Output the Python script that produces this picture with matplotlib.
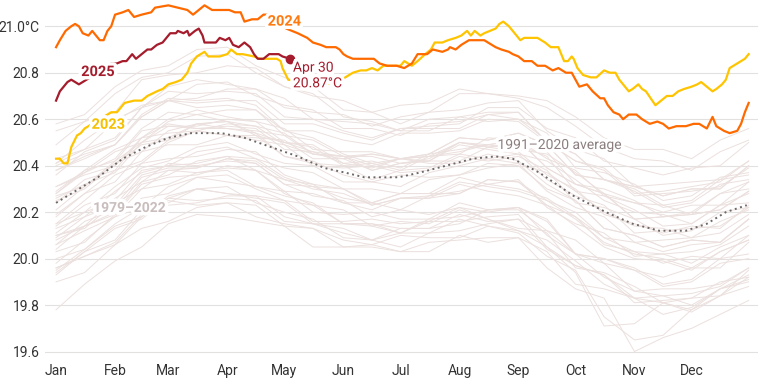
import matplotlib
matplotlib.use('Agg')
import matplotlib.pyplot as plt
import matplotlib.patheffects as pe

plt.rcParams['font.family'] = ['Roboto', 'DejaVu Sans']

# day-of-year positions for the 1979-2022 lines
bg_days = [1, 16, 32, 46, 60, 75, 91, 106, 121, 136, 152, 167, 182, 197, 213, 228, 244, 259, 274, 289, 305, 320, 335, 350, 365]
bg_years = list(range(1979, 2023))
bg_values = [
    [19.94, 20.03, 20.08, 20.21, 20.23, 20.24, 20.27, 20.27, 20.18, 20.15, 20.13, 20.08, 20.11, 20.11, 20.17, 20.14, 20.12, 20.08, 19.99, 19.89, 19.83, 19.81, 19.77, 19.84, 19.88],
    [20.03, 20.07, 20.19, 20.26, 20.28, 20.35, 20.36, 20.30, 20.25, 20.23, 20.15, 20.14, 20.11, 20.17, 20.18, 20.21, 20.22, 20.10, 20.02, 19.98, 19.86, 19.87, 19.87, 19.89, 19.96],
    [19.95, 20.04, 20.14, 20.18, 20.27, 20.30, 20.28, 20.26, 20.24, 20.15, 20.15, 20.15, 20.13, 20.13, 20.19, 20.16, 20.17, 20.11, 19.96, 19.94, 19.88, 19.81, 19.83, 19.90, 19.92],
    [19.96, 20.01, 20.06, 20.18, 20.25, 20.23, 20.24, 20.23, 20.14, 20.13, 20.08, 20.06, 20.10, 20.09, 20.09, 20.14, 20.11, 20.01, 19.95, 19.75, 19.65, 19.67, 19.78, 19.84, 19.95],
    [20.04, 20.14, 20.19, 20.32, 20.35, 20.36, 20.40, 20.38, 20.28, 20.23, 20.21, 20.14, 20.16, 20.15, 20.21, 20.17, 20.13, 20.12, 20.02, 19.92, 19.86, 19.84, 19.80, 19.87, 19.91],
    [19.90, 19.94, 20.06, 20.13, 20.16, 20.22, 20.24, 20.18, 20.15, 20.13, 20.05, 20.06, 20.03, 20.07, 20.08, 20.09, 20.09, 19.96, 19.87, 19.83, 19.60, 19.66, 19.70, 19.76, 19.82],
    [19.78, 19.89, 19.99, 20.05, 20.15, 20.19, 20.18, 20.16, 20.14, 20.05, 20.05, 20.05, 20.03, 20.03, 20.10, 20.07, 20.09, 20.03, 19.89, 19.87, 19.83, 19.76, 19.79, 19.87, 19.90],
    [19.96, 20.01, 20.07, 20.19, 20.26, 20.25, 20.26, 20.25, 20.16, 20.15, 20.11, 20.08, 20.13, 20.13, 20.15, 20.21, 20.21, 20.12, 20.08, 19.98, 19.95, 19.92, 19.96, 19.96, 20.07],
    [20.06, 20.16, 20.21, 20.35, 20.38, 20.39, 20.43, 20.42, 20.34, 20.30, 20.28, 20.23, 20.26, 20.27, 20.33, 20.31, 20.29, 20.25, 20.17, 20.07, 20.02, 20.00, 19.96, 20.03, 20.08],
    [20.10, 20.13, 20.24, 20.30, 20.32, 20.37, 20.38, 20.31, 20.27, 20.24, 20.15, 20.15, 20.11, 20.16, 20.16, 20.18, 20.19, 20.05, 19.97, 19.93, 19.81, 19.82, 19.83, 19.84, 19.92],
    [19.93, 20.03, 20.13, 20.17, 20.26, 20.30, 20.28, 20.27, 20.25, 20.16, 20.16, 20.17, 20.15, 20.16, 20.22, 20.20, 20.22, 20.16, 20.02, 20.00, 19.96, 19.89, 19.91, 20.00, 20.02],
    [20.08, 20.14, 20.20, 20.33, 20.41, 20.40, 20.42, 20.41, 20.32, 20.31, 20.26, 20.24, 20.28, 20.28, 20.28, 20.34, 20.33, 20.23, 20.18, 20.06, 20.03, 19.98, 20.01, 20.00, 20.10],
    [20.09, 20.18, 20.23, 20.36, 20.39, 20.39, 20.43, 20.41, 20.32, 20.27, 20.25, 20.18, 20.21, 20.19, 20.22, 20.17, 20.12, 20.05, 19.94, 19.71, 19.72, 19.81, 19.78, 19.87, 19.93],
    [20.00, 20.04, 20.15, 20.22, 20.24, 20.30, 20.31, 20.24, 20.20, 20.17, 20.09, 20.08, 20.05, 20.11, 20.12, 20.15, 20.17, 20.04, 19.97, 19.93, 19.83, 19.84, 19.85, 19.88, 19.96],
    [19.98, 20.08, 20.18, 20.22, 20.31, 20.35, 20.33, 20.31, 20.29, 20.20, 20.19, 20.20, 20.17, 20.17, 20.24, 20.21, 20.22, 20.17, 20.02, 20.00, 19.95, 19.88, 19.90, 19.98, 20.00],
    [20.06, 20.12, 20.18, 20.30, 20.38, 20.37, 20.39, 20.38, 20.29, 20.28, 20.24, 20.21, 20.26, 20.26, 20.28, 20.34, 20.33, 20.25, 20.20, 20.09, 20.07, 20.03, 20.06, 20.07, 20.17],
    [20.14, 20.23, 20.28, 20.41, 20.43, 20.44, 20.47, 20.46, 20.36, 20.32, 20.30, 20.23, 20.26, 20.26, 20.32, 20.29, 20.27, 20.23, 20.14, 20.05, 20.00, 19.99, 19.95, 20.03, 20.08],
    [20.10, 20.14, 20.26, 20.33, 20.36, 20.42, 20.44, 20.38, 20.34, 20.32, 20.24, 20.24, 20.21, 20.27, 20.29, 20.32, 20.34, 20.22, 20.15, 20.11, 20.01, 20.02, 20.03, 20.06, 20.14],
    [20.15, 20.25, 20.36, 20.41, 20.50, 20.55, 20.53, 20.52, 20.51, 20.43, 20.43, 20.45, 20.43, 20.45, 20.52, 20.51, 20.54, 20.49, 20.36, 20.34, 20.29, 20.22, 20.24, 20.32, 20.34],
    [20.38, 20.44, 20.49, 20.62, 20.69, 20.68, 20.69, 20.66, 20.55, 20.52, 20.45, 20.41, 20.43, 20.41, 20.41, 20.45, 20.42, 20.32, 20.25, 20.13, 20.10, 20.05, 20.08, 20.07, 20.17],
    [20.11, 20.20, 20.25, 20.38, 20.40, 20.41, 20.44, 20.43, 20.35, 20.31, 20.30, 20.24, 20.28, 20.28, 20.35, 20.32, 20.30, 20.26, 20.18, 20.09, 20.03, 20.02, 19.98, 20.05, 20.10],
    [20.13, 20.18, 20.29, 20.37, 20.40, 20.46, 20.48, 20.43, 20.39, 20.37, 20.30, 20.30, 20.28, 20.34, 20.36, 20.39, 20.41, 20.29, 20.22, 20.18, 20.07, 20.08, 20.09, 20.11, 20.19],
    [20.18, 20.28, 20.38, 20.42, 20.51, 20.55, 20.53, 20.51, 20.49, 20.40, 20.39, 20.40, 20.37, 20.38, 20.44, 20.42, 20.44, 20.38, 20.24, 20.22, 20.17, 20.10, 20.12, 20.20, 20.22],
    [20.26, 20.32, 20.37, 20.50, 20.57, 20.56, 20.57, 20.56, 20.47, 20.46, 20.41, 20.39, 20.43, 20.44, 20.45, 20.52, 20.51, 20.43, 20.38, 20.27, 20.24, 20.20, 20.23, 20.23, 20.33],
    [20.29, 20.38, 20.42, 20.55, 20.57, 20.57, 20.60, 20.59, 20.50, 20.46, 20.44, 20.38, 20.41, 20.42, 20.49, 20.47, 20.45, 20.42, 20.34, 20.25, 20.20, 20.19, 20.15, 20.23, 20.28],
    [20.27, 20.31, 20.42, 20.50, 20.52, 20.58, 20.59, 20.53, 20.50, 20.48, 20.40, 20.41, 20.38, 20.44, 20.46, 20.49, 20.51, 20.39, 20.32, 20.28, 20.17, 20.18, 20.19, 20.21, 20.29],
    [20.28, 20.38, 20.47, 20.52, 20.60, 20.64, 20.61, 20.59, 20.56, 20.47, 20.46, 20.46, 20.43, 20.44, 20.50, 20.48, 20.49, 20.44, 20.29, 20.27, 20.21, 20.14, 20.15, 20.23, 20.24],
    [20.24, 20.34, 20.38, 20.52, 20.54, 20.55, 20.58, 20.57, 20.49, 20.45, 20.43, 20.38, 20.41, 20.43, 20.50, 20.49, 20.47, 20.45, 20.37, 20.28, 20.24, 20.23, 20.19, 20.28, 20.33],
    [20.31, 20.36, 20.40, 20.52, 20.58, 20.56, 20.56, 20.54, 20.44, 20.42, 20.36, 20.33, 20.36, 20.35, 20.36, 20.41, 20.40, 20.30, 20.25, 20.13, 20.10, 20.05, 20.08, 20.07, 20.17],
    [20.15, 20.20, 20.31, 20.39, 20.42, 20.48, 20.50, 20.45, 20.41, 20.40, 20.33, 20.33, 20.31, 20.37, 20.40, 20.43, 20.45, 20.34, 20.27, 20.23, 20.11, 20.12, 20.13, 20.14, 20.22],
    [20.21, 20.31, 20.41, 20.46, 20.55, 20.58, 20.56, 20.55, 20.53, 20.45, 20.44, 20.45, 20.43, 20.45, 20.52, 20.51, 20.54, 20.49, 20.36, 20.34, 20.30, 20.23, 20.25, 20.34, 20.36],
    [20.40, 20.45, 20.49, 20.61, 20.68, 20.65, 20.66, 20.64, 20.53, 20.51, 20.44, 20.40, 20.43, 20.42, 20.42, 20.48, 20.46, 20.36, 20.30, 20.19, 20.15, 20.11, 20.14, 20.13, 20.23],
    [20.19, 20.28, 20.33, 20.46, 20.49, 20.49, 20.53, 20.53, 20.44, 20.41, 20.40, 20.34, 20.38, 20.39, 20.45, 20.43, 20.41, 20.37, 20.29, 20.20, 20.14, 20.13, 20.09, 20.16, 20.21],
    [20.25, 20.30, 20.41, 20.49, 20.51, 20.58, 20.59, 20.54, 20.50, 20.49, 20.41, 20.42, 20.39, 20.45, 20.47, 20.49, 20.51, 20.39, 20.32, 20.28, 20.17, 20.18, 20.19, 20.21, 20.29],
    [20.28, 20.37, 20.46, 20.50, 20.59, 20.62, 20.59, 20.57, 20.54, 20.45, 20.44, 20.44, 20.41, 20.42, 20.50, 20.48, 20.50, 20.46, 20.32, 20.30, 20.25, 20.18, 20.20, 20.28, 20.30],
    [20.31, 20.37, 20.43, 20.56, 20.63, 20.62, 20.64, 20.64, 20.55, 20.55, 20.51, 20.49, 20.54, 20.54, 20.55, 20.60, 20.59, 20.50, 20.45, 20.34, 20.31, 20.27, 20.30, 20.30, 20.40],
    [20.36, 20.46, 20.51, 20.65, 20.68, 20.69, 20.73, 20.73, 20.65, 20.63, 20.62, 20.57, 20.61, 20.63, 20.71, 20.71, 20.70, 20.68, 20.61, 20.52, 20.47, 20.47, 20.43, 20.51, 20.56],
    [20.58, 20.62, 20.74, 20.81, 20.83, 20.90, 20.91, 20.83, 20.78, 20.74, 20.64, 20.63, 20.58, 20.63, 20.64, 20.67, 20.68, 20.55, 20.47, 20.43, 20.31, 20.32, 20.33, 20.34, 20.42],
    [20.41, 20.51, 20.60, 20.65, 20.74, 20.77, 20.75, 20.73, 20.69, 20.60, 20.59, 20.58, 20.55, 20.55, 20.61, 20.59, 20.60, 20.54, 20.39, 20.37, 20.32, 20.25, 20.27, 20.35, 20.37],
    [20.38, 20.43, 20.49, 20.61, 20.68, 20.67, 20.68, 20.68, 20.58, 20.58, 20.54, 20.51, 20.56, 20.57, 20.58, 20.65, 20.65, 20.56, 20.52, 20.42, 20.39, 20.36, 20.39, 20.40, 20.50],
    [20.49, 20.59, 20.63, 20.77, 20.79, 20.80, 20.83, 20.82, 20.74, 20.70, 20.68, 20.63, 20.66, 20.67, 20.73, 20.71, 20.69, 20.65, 20.57, 20.48, 20.43, 20.42, 20.38, 20.46, 20.51],
    [20.55, 20.59, 20.71, 20.78, 20.80, 20.87, 20.88, 20.80, 20.74, 20.71, 20.61, 20.59, 20.55, 20.60, 20.61, 20.63, 20.63, 20.50, 20.42, 20.38, 20.27, 20.28, 20.29, 20.31, 20.39],
    [20.41, 20.47, 20.52, 20.65, 20.72, 20.71, 20.72, 20.71, 20.61, 20.60, 20.55, 20.52, 20.56, 20.56, 20.56, 20.62, 20.60, 20.51, 20.45, 20.34, 20.31, 20.27, 20.30, 20.30, 20.40],
    [20.43, 20.47, 20.59, 20.66, 20.68, 20.75, 20.76, 20.70, 20.66, 20.64, 20.56, 20.56, 20.53, 20.58, 20.59, 20.62, 20.63, 20.50, 20.42, 20.39, 20.28, 20.29, 20.31, 20.33, 20.42],
]

# 1991-2020 average
avg_days = [1, 13, 23, 36, 48, 60, 72, 88, 100, 114, 128, 142, 153, 163, 181, 192, 206, 220, 232, 241, 255, 273, 290, 304, 318, 332, 343, 353, 364]
avg_sst = [20.24, 20.30, 20.35, 20.43, 20.48, 20.52, 20.54, 20.54, 20.52, 20.48, 20.44, 20.39, 20.37, 20.35, 20.35, 20.37, 20.40, 20.43, 20.44, 20.43, 20.37, 20.27, 20.20, 20.15, 20.12, 20.12, 20.15, 20.20, 20.23]

days_2023 = [1, 3, 5, 7, 9, 12, 14, 16, 18, 20, 24, 28, 30, 33, 37, 42, 44, 46, 49, 54, 57, 60, 64, 67, 70, 72, 75, 77, 79, 81,
             85, 87, 91, 93, 96, 99, 105, 108, 113, 117, 119, 120, 123, 130, 140, 149, 153, 157, 161, 164, 167, 170, 173, 177, 182,
             184, 188, 191, 195, 198, 200, 204, 207, 211, 214, 217, 219, 221, 224, 226, 229, 232, 234, 236, 239, 241, 245, 247, 251,
             254, 258, 261, 265, 268, 270, 272, 273, 275, 278, 282, 285, 289, 292, 295, 297, 302, 304, 307, 309, 311, 316, 319, 322,
             325, 328, 331, 335, 338, 340, 343, 346, 348, 351, 353, 355, 357, 359, 361, 363, 365]
sst_2023 = [20.43, 20.43, 20.41, 20.41, 20.48, 20.53, 20.54, 20.56, 20.57, 20.58, 20.60, 20.62, 20.63, 20.63, 20.67, 20.68, 20.68, 20.68, 20.70, 20.72, 20.73, 20.75, 20.76, 20.77, 20.80, 20.84, 20.87, 20.88, 20.89, 20.87,
            20.87, 20.87, 20.88, 20.90, 20.88, 20.88, 20.87, 20.86, 20.86, 20.86, 20.85, 20.82, 20.77, 20.76, 20.75, 20.76, 20.78, 20.80, 20.81, 20.81, 20.82, 20.81, 20.83, 20.83, 20.83,
            20.85, 20.83, 20.85, 20.88, 20.90, 20.93, 20.93, 20.94, 20.95, 20.96, 20.98, 20.96, 20.98, 20.96, 20.97, 20.98, 20.99, 21.01, 21.02, 21.00, 20.98, 20.94, 20.95, 20.95,
            20.95, 20.93, 20.91, 20.91, 20.85, 20.85, 20.87, 20.86, 20.82, 20.79, 20.78, 20.78, 20.81, 20.80, 20.80, 20.77, 20.72, 20.73, 20.75, 20.73, 20.72, 20.66, 20.68, 20.70,
            20.70, 20.72, 20.73, 20.74, 20.75, 20.76, 20.74, 20.72, 20.73, 20.75, 20.77, 20.82, 20.83, 20.84, 20.85, 20.86, 20.88]

days_2024 = [1, 3, 6, 9, 11, 13, 15, 18, 20, 22, 24, 26, 28, 30, 32, 36, 39, 42, 46, 51, 53, 60, 65, 70, 73, 76, 79, 83, 86, 90,
             92, 95, 98, 100, 104, 107, 110, 112, 117, 122, 128, 133, 136, 140, 143, 148, 150, 152, 154, 157, 161, 164, 168, 171, 175,
             180, 184, 188, 191, 193, 196, 199, 204, 207, 208, 211, 214, 218, 222, 226, 228, 232, 235, 239, 241, 244, 247, 251, 254,
             258, 262, 265, 269, 272, 274, 276, 280, 283, 287, 289, 291, 294, 297, 299, 302, 306, 309, 313, 317, 320, 323, 327, 332,
             336, 339, 343, 346, 348, 352, 355, 359, 361, 363, 365]
sst_2024 = [20.91, 20.94, 20.98, 21.00, 21.01, 21.00, 20.97, 20.96, 20.98, 20.96, 20.94, 20.94, 20.98, 21.00, 21.05, 21.06, 21.07, 21.04, 21.05, 21.06, 21.08, 21.09, 21.08, 21.07, 21.05, 21.07, 21.09, 21.07, 21.07, 21.07,
            21.07, 21.06, 21.06, 21.02, 21.03, 21.03, 21.05, 21.05, 21.02, 20.99, 20.97, 20.95, 20.93, 20.92, 20.91, 20.91, 20.90, 20.88, 20.87, 20.86, 20.86, 20.86, 20.86, 20.84, 20.83,
            20.83, 20.82, 20.84, 20.88, 20.88, 20.88, 20.90, 20.89, 20.90, 20.91, 20.90, 20.92, 20.94, 20.94, 20.94, 20.93, 20.91, 20.90, 20.89, 20.88, 20.87, 20.85, 20.85, 20.83,
            20.83, 20.81, 20.82, 20.80, 20.80, 20.77, 20.74, 20.75, 20.72, 20.69, 20.69, 20.66, 20.63, 20.62, 20.60, 20.62, 20.62, 20.60, 20.58, 20.59, 20.58, 20.56, 20.57, 20.57,
            20.58, 20.58, 20.56, 20.61, 20.57, 20.55, 20.54, 20.55, 20.58, 20.63, 20.67]

days_2025 = [1, 3, 5, 7, 9, 11, 13, 15, 17, 23, 30, 33, 36, 38, 41, 43, 46, 49, 51, 54, 57, 59, 61, 64, 65, 68, 70, 71, 74, 76,
             78, 79, 82, 85, 87, 90, 92, 94, 97, 100, 103, 105, 107, 110, 113, 118, 120, 124]
sst_2025 = [20.68, 20.72, 20.74, 20.76, 20.77, 20.76, 20.75, 20.76, 20.77, 20.80, 20.84, 20.84, 20.85, 20.85, 20.88, 20.86, 20.88, 20.90, 20.90, 20.92, 20.93, 20.95, 20.97, 20.97, 20.98, 20.97, 20.98, 20.96, 20.98, 20.99,
            20.96, 20.93, 20.93, 20.93, 20.95, 20.94, 20.95, 20.92, 20.91, 20.93, 20.91, 20.88, 20.86, 20.86, 20.88, 20.88, 20.87, 20.86]

month_days = [1, 32, 60, 91, 121, 152, 182, 213, 244, 274, 305, 335]
month_labels = ['Jan', 'Feb', 'Mar', 'Apr', 'May', 'Jun', 'Jul', 'Aug', 'Sep', 'Oct', 'Nov', 'Dec']
y_ticks = [19.6, 19.8, 20.0, 20.2, 20.4, 20.6, 20.8, 21.0]
y_labels = ['19.6', '19.8', '20.0', '20.2', '20.4', '20.6', '20.8', '21.0°C']

c2023 = '#ffc400'
c2024 = '#ff6a00'
c2025 = '#a51c2c'
cbg = '#ebe0de'

fig = plt.figure(figsize=(7.58, 3.8), dpi=100)
ax = fig.add_axes([0.0594, 0.0632, 0.9406, 0.9368])

for vals in bg_values:
    ax.plot(bg_days, vals, color=cbg, lw=0.7, zorder=1)

ax.plot(avg_days, avg_sst, color='#6e6868', lw=1.4, ls=(0, (1, 1.8)), zorder=3)
ax.plot(days_2023, sst_2023, color=c2023, lw=1.6, zorder=4)
ax.plot(days_2024, sst_2024, color=c2024, lw=1.6, zorder=5)
ax.plot(days_2025, sst_2025, color=c2025, lw=1.6, zorder=6)
ax.plot(days_2025[-1], sst_2025[-1], 'o', color=c2025, ms=6, zorder=7)

halo = [pe.withStroke(linewidth=5, foreground='white')]
ax.text(23, 20.803, '2025', color=c2025, fontsize=10.5, fontweight='bold', ha='center', va='center', path_effects=halo, zorder=8)
ax.text(28.5, 20.576, '2023', color='#f5c000', fontsize=10.5, fontweight='bold', ha='center', va='center', path_effects=halo, zorder=8)
ax.text(121, 21.02, '2024', color='#ff7a10', fontsize=10.5, fontweight='bold', ha='center', va='center', path_effects=halo, zorder=8)
ax.text(125.5, 20.852, 'Apr 30\n20.87°C', color=c2025, fontsize=10, ha='left', va='top', linespacing=1.15, path_effects=halo, zorder=8)
ax.text(233, 20.489, '1991–2020 average', color='#8c7e7e', fontsize=10, ha='left', va='center', path_effects=halo, zorder=8)
ax.text(20.5, 20.218, '1979–2022', color='#c9bdbd', fontsize=10, fontweight='bold', ha='left', va='center', path_effects=halo, zorder=8)

ax.set_xlim(-4.8, 369.9)
ax.set_ylim(19.581, 21.113)
ax.set_yticks(y_ticks)
ax.set_yticklabels(y_labels)
ax.set_xticks(month_days)
ax.set_xticklabels(month_labels)
ax.tick_params(axis='both', length=0, labelsize=10, labelcolor='#333333')
ax.tick_params(axis='y', pad=4)
ax.tick_params(axis='x', pad=6)
ax.grid(axis='y', color='#e3e0e0', lw=0.8, zorder=0)
ax.set_axisbelow(True)
for s in ax.spines.values():
    s.set_visible(False)

fig.savefig('out.png', dpi=100, facecolor='white')
